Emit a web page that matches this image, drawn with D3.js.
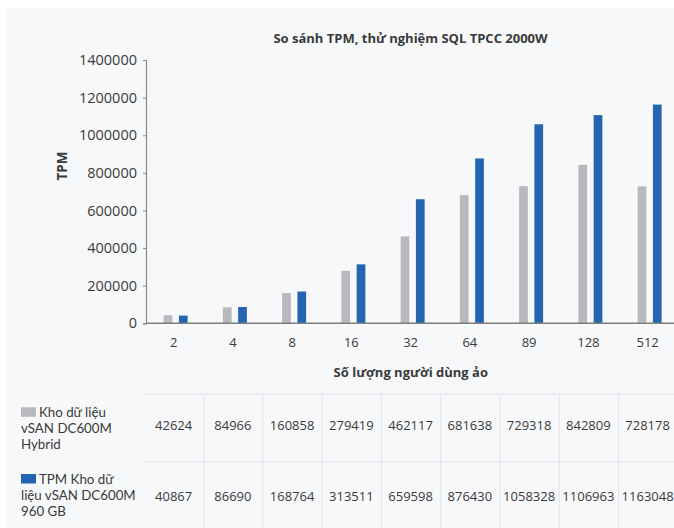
<!DOCTYPE html>
<html><head><meta charset="utf-8">
<script src="https://cdn.jsdelivr.net/npm/d3@7"></script>
<style>
body{margin:0;background:#fff;}
svg{display:block;font-family:"Open Sans",sans-serif;}
</style></head><body>
<svg id="c" width="674" height="528"></svg>
<script>
const categories = ["2","4","8","16","32","64","89","128","512"];
const hybridValues = [42624,84966,160858,279419,462117,681638,729318,842809,728178];
const ssdValues = [40867,86690,168764,313511,659598,876430,1058328,1106963,1163048];
const yTicks = [0,200000,400000,600000,800000,1000000,1200000,1400000];
const seriesNames = [["Kho dữ liệu","vSAN DC600M","Hybrid"],["TPM Kho dữ","liệu vSAN DC600M","960 GB"]];
const seriesKeys = ["hybrid","ssd"];
const colors = ["#b7b9bd","#2464b1"];
const title = "So sánh TPM, thử nghiệm SQL TPCC 2000W";
const xTitle = "Số lượng người dùng ảo";
const yTitle = "TPM";

const svg = d3.select("#c");
svg.append("rect").attr("x",6).attr("y",8).attr("width",668).attr("height",520).attr("fill","#f7f8fa");

const x = d3.scaleBand().domain(categories).range([146, 146+9*59.25]).padding(0);
const sub = d3.scaleBand().domain(seriesKeys).range([0,24]).paddingInner(0.43).paddingOuter(0);
const y = d3.scaleLinear().domain([0,1400000]).range([323.3,60]);
const textColor = "#3a3a3a";

// bars
const data = seriesKeys.map((k,i)=>({key:k, values:(i===0?hybridValues:ssdValues)}));
data.forEach((s,i)=>{
  svg.append("g").selectAll("rect").data(s.values).join("rect")
    .attr("x",(d,j)=>x(categories[j])+x.bandwidth()/2-12+sub(s.key))
    .attr("width",sub.bandwidth())
    .attr("y",d=>y(d))
    .attr("height",d=>y(0)-y(d))
    .attr("fill",colors[i]);
});

// y axis
const ya = svg.append("g").attr("transform","translate(146,0)")
  .call(d3.axisLeft(y).tickValues(yTicks).tickFormat(d3.format("d")).tickSize(3).tickPadding(6));
ya.select(".domain").attr("stroke","#8a8a8a").attr("stroke-width",1.2);
ya.selectAll(".tick line").attr("stroke","#8a8a8a");
ya.selectAll(".tick text").attr("fill",textColor).style("font-size","14.5px").style("font-family","Open Sans");

// x axis line
svg.append("line").attr("x1",146).attr("x2",674).attr("y1",y(0)).attr("y2",y(0))
  .attr("stroke","#7f7f7f").attr("stroke-width",1.6);

// x tick labels
svg.append("g").selectAll("text").data(categories).join("text")
  .attr("x",d=>x(d)+x.bandwidth()/2-2).attr("y",347)
  .attr("text-anchor","middle").attr("fill",textColor).style("font-size","13px").text(d=>d);

// titles
svg.append("text").attr("x",410.5).attr("y",42.7).attr("text-anchor","middle")
  .attr("fill",textColor).style("font-size","13px").style("font-weight","bold").text(title);
svg.append("text").attr("x",410.8).attr("y",377).attr("text-anchor","middle")
  .attr("fill",textColor).style("font-size","13px").style("font-weight","bold").text(xTitle);
svg.append("text").attr("transform","translate(67,166) rotate(-90)").attr("text-anchor","middle")
  .attr("fill",textColor).style("font-size","13.5px").style("font-weight","bold").text(yTitle);

// table grid
const gridColor = "#e1e4e9";
[394,462].forEach(yy=>{
  svg.append("line").attr("x1",145).attr("x2",674).attr("y1",yy).attr("y2",yy).attr("stroke",gridColor).attr("stroke-width",1);
});
categories.slice(1).forEach(c=>{
  svg.append("line").attr("x1",x(c)-1.5).attr("x2",x(c)-1.5).attr("y1",394).attr("y2",528).attr("stroke",gridColor).attr("stroke-width",1);
});

// table values
const rowBase = [430,500.5];
data.forEach((s,i)=>{
  svg.append("g").selectAll("text").data(s.values).join("text")
    .attr("x",(d,j)=>x(categories[j])+x.bandwidth()/2-2).attr("y",rowBase[i])
    .attr("text-anchor","middle").attr("fill",textColor).style("font-size","13px").text(d=>d);
});

// row legends
const legTop = [417.3,484];
seriesNames.forEach((lines,i)=>{
  svg.append("rect").attr("x",21).attr("y",legTop[i]-10).attr("width",15).attr("height",9.5).attr("fill",colors[i]);
  lines.forEach((t,k)=>{
    svg.append("text").attr("x",k===0?39:21).attr("y",legTop[i]+k*16)
      .attr("fill",textColor).style("font-family","Lato").style("font-size","13.3px").text(t);
  });
});
</script>
</body></html>
